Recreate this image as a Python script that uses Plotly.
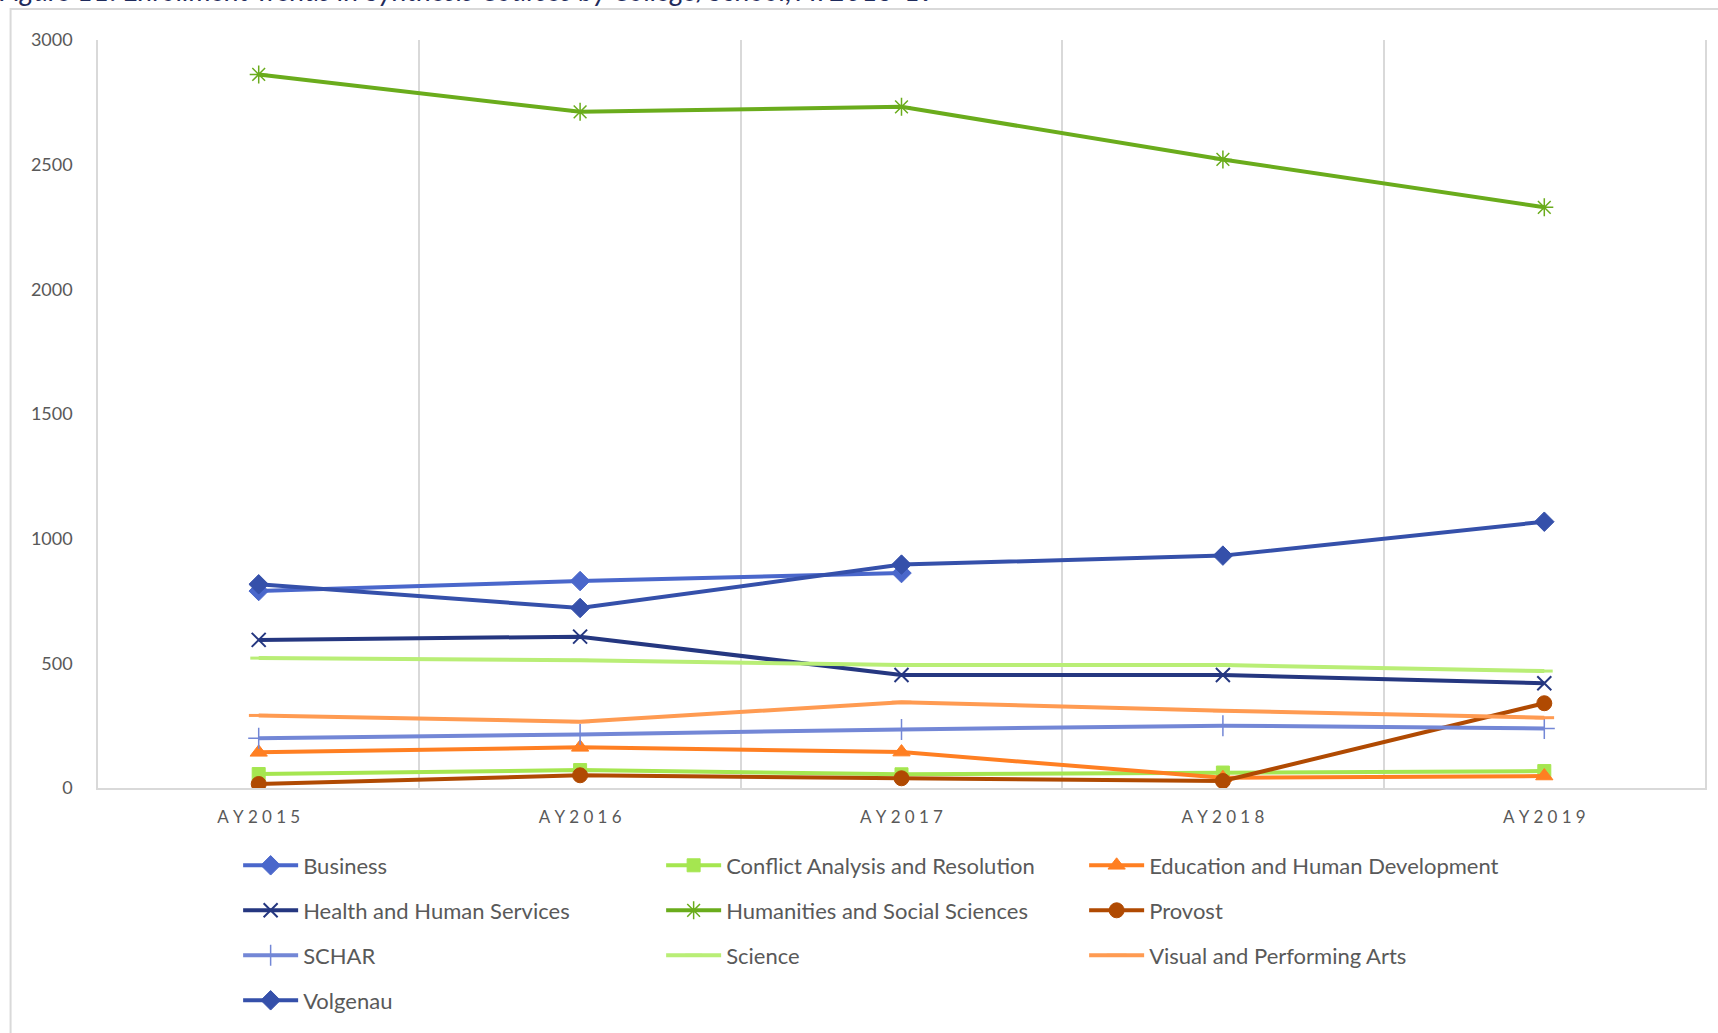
import plotly.graph_objects as go

years = ["AY2015", "AY2016", "AY2017", "AY2018", "AY2019"]

business = [790, 830, 862, None, None]
conflict = [56, 72, 55, 62, 68]
education = [143, 163, 144, 41, 48]
health = [594, 607, 453, 453, 420]
humanities = [2862, 2712, 2732, 2521, 2329]
provost = [16, 51, 39, 28, 340]
schar = [200, 215, 235, 250, 239]
science = [521, 512, 493, 493, 469]
visual_arts = [291, 266, 344, 310, 282]
volgenau = [817, 722, 896, 932, 1068]

series = [
    ("Business", business, "#4A67CB", "diamond", 15, 1, "legend"),
    ("Conflict Analysis and Resolution", conflict, "#A5E650", "square", 13, 1, "legend"),
    ("Education and Human Development", education, "#FF7F22", "triangle-up", 15, 1, "legend"),
    ("Health and Human Services", health, "#253780", "x-thin-open", 14, 2, "legend2"),
    ("Humanities and Social Sciences", humanities, "#6AAC1C", "asterisk-open", 15, 1.5, "legend2"),
    ("Provost", provost, "#B04A02", "circle", 15, 1, "legend2"),
    ("SCHAR", schar, "#7387D6", "cross-thin-open", 15, 1.5, "legend3"),
    ("Science", science, "#B9EE76", "line-ew-open", 12, 3, "legend3"),
    ("Visual and Performing Arts", visual_arts, "#FF9B52", "line-ew-open", 14, 3, "legend3"),
    ("Volgenau", volgenau, "#3550AA", "diamond", 15, 1, "legend4"),
]

xpos = list(range(len(years)))
ticktext = ["\u2005".join(y) for y in years]

fig = go.Figure()
for name, vals, color, sym, size, mlw, leg in series:
    fig.add_trace(go.Scatter(
        x=xpos, y=vals, name=name, mode="lines+markers",
        line=dict(color=color, width=4),
        marker=dict(symbol=sym, size=size, color=color, line=dict(color=color, width=mlw)),
        legend=leg, connectgaps=False,
    ))

gray = "#D9D9D9"
txt = "#595959"
legend_common = dict(orientation="h", xanchor="left", yanchor="middle",
                     font=dict(family="Lato", size=22, color=txt),
                     entrywidth=353, bgcolor="rgba(0,0,0,0)", itemwidth=55)
rows_y = [865.5, 910.5, 955.5, 1000.5]
top, bottom = 40, 788
def py(p):
    return (bottom - p) / (bottom - top)

fig.update_layout(
    width=1718, height=1033,
    margin=dict(l=98, r=11, t=40, b=245),
    paper_bgcolor="white", plot_bgcolor="white",
    showlegend=True,
    legend=dict(legend_common, x=0.0872, y=py(rows_y[0])),
    legend2=dict(legend_common, x=0.0872, y=py(rows_y[1])),
    legend3=dict(legend_common, x=0.0872, y=py(rows_y[2])),
    legend4=dict(legend_common, x=0.0872, y=py(rows_y[3])),
    xaxis=dict(range=[-0.5, 4.5], tickvals=xpos, ticktext=ticktext,
               showgrid=False, zeroline=False,
               showline=True, linecolor=gray, linewidth=1.5,
               ticks="outside", ticklen=13, tickcolor="rgba(0,0,0,0)",
               tickfont=dict(family="Lato", size=17, color=txt),
               minor=dict(tickvals=[-0.5, 0.5, 1.5, 2.5, 3.5, 4.5], showgrid=True,
                          gridcolor=gray, gridwidth=1.5, ticks="")),
    yaxis=dict(range=[0, 3000], tickvals=[0, 500, 1000, 1500, 2000, 2500, 3000],
               showgrid=False, zeroline=False,
               showline=True, mirror=True, linecolor=gray, linewidth=1.5,
               ticks="outside", ticklen=20, tickcolor="rgba(0,0,0,0)",
               tickfont=dict(family="Lato", size=18, color=txt)),
    shapes=[dict(type="rect", xref="paper", yref="paper",
                 x0=-0.0544, x1=1.05, y0=-0.4, y1=py(9),
                 line=dict(color=gray, width=2), fillcolor="rgba(0,0,0,0)", layer="below")],
    annotations=[dict(text="Figure 11: Enrollment Trends in Synthesis Courses by College/School, AY2015-19",
                      xref="paper", yref="paper", x=-0.063, y=py(9), xanchor="left", yanchor="bottom",
                      showarrow=False,
                      font=dict(family="Lato", size=28, color="#1F2B5C", style="italic"))],
)

fig.write_html("out.html")
